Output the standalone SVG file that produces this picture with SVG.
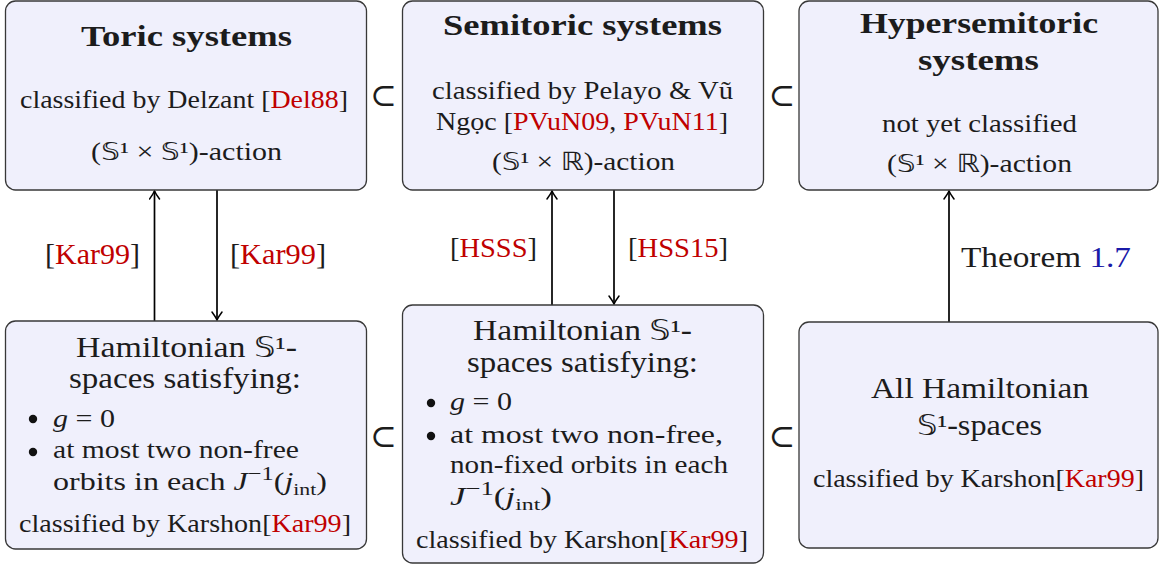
<svg xmlns="http://www.w3.org/2000/svg" width="1159" height="564" viewBox="0 0 1159 564">
<defs>
<style>
.box{fill:#f0f0fc;stroke:#383838;stroke-width:1.3}
text{font-family:"Liberation Serif","Times New Roman",serif;fill:#1c1c1c}
.t{font-weight:bold;font-size:30px}
.b{font-size:25px}
.h{font-size:29px}
.l{font-size:29.5px}
.l2{font-size:28px}
.red{fill:#c00000}
.blue{fill:#1a1aa8}
.ds{font-family:"DejaVu Sans","DejaVu Serif","Noto Sans",sans-serif}
.it{font-style:italic}
.sub{font-size:17px}
.sub2{font-size:19px}
.conn{stroke:#000;stroke-width:1.7;fill:none}
.sup{font-family:"DejaVu Serif","DejaVu Sans",serif;font-size:32px}
</style>
<marker id="ah" viewBox="-10 -6 12 12" refX="0" refY="0" markerWidth="12" markerHeight="12" markerUnits="userSpaceOnUse" orient="auto">
<path d="M -8 -5 Q -3 -1.3 0 0 Q -3 1.3 -8 5" fill="none" stroke="#000" stroke-width="1.5" stroke-linecap="round"/>
</marker>
</defs>
<rect width="1159" height="564" fill="#fff"/>

<g id="connectors">
<line class="conn" x1="154.5" y1="321" x2="154.5" y2="191" marker-end="url(#ah)"/>
<line class="conn" x1="217" y1="190" x2="217" y2="320" marker-end="url(#ah)"/>
<line class="conn" x1="552" y1="305" x2="552" y2="191" marker-end="url(#ah)"/>
<line class="conn" x1="614" y1="190" x2="614" y2="304" marker-end="url(#ah)"/>
<line class="conn" x1="949" y1="322" x2="949" y2="191" marker-end="url(#ah)"/>
<text class="l" x="45" y="264" textLength="95" lengthAdjust="spacingAndGlyphs">[<tspan class="red">Kar99</tspan>]</text>
<text class="l" x="230" y="264" textLength="96" lengthAdjust="spacingAndGlyphs">[<tspan class="red">Kar99</tspan>]</text>
<text class="l2" x="450" y="257" textLength="87" lengthAdjust="spacingAndGlyphs">[<tspan class="red">HSSS</tspan>]</text>
<text class="l2" x="628" y="257" textLength="100" lengthAdjust="spacingAndGlyphs">[<tspan class="red">HSS15</tspan>]</text>
<text class="l" x="961" y="267" textLength="170" lengthAdjust="spacingAndGlyphs">Theorem <tspan class="blue">1.7</tspan></text>
</g>

<g id="subset-symbols">
<text class="sup" x="383.5" y="106" text-anchor="middle">⊂</text>
<text class="sup" x="782" y="106" text-anchor="middle">⊂</text>
<text class="sup" x="383.5" y="447" text-anchor="middle">⊂</text>
<text class="sup" x="782" y="447" text-anchor="middle">⊂</text>
</g>

<g id="toric">
<rect class="box" x="5.5" y="1" width="361" height="189" rx="10"/>
<text class="t" x="81" y="46" textLength="211" lengthAdjust="spacingAndGlyphs">Toric systems</text>
<text class="b" x="20" y="108" textLength="328" lengthAdjust="spacingAndGlyphs">classified by Delzant [<tspan class="red">Del88</tspan>]</text>
<text class="b" x="91" y="160" textLength="191" lengthAdjust="spacingAndGlyphs">(<tspan class="ds">𝕊</tspan>¹ × <tspan class="ds">𝕊</tspan>¹)-action</text>
</g>

<g id="semitoric">
<rect class="box" x="402.5" y="1" width="361" height="189" rx="10"/>
<text class="t" x="443" y="35" textLength="279" lengthAdjust="spacingAndGlyphs">Semitoric systems</text>
<text class="b" x="432" y="99" textLength="301" lengthAdjust="spacingAndGlyphs">classified by Pelayo &amp; Vũ</text>
<text class="b" x="436" y="130" textLength="292" lengthAdjust="spacingAndGlyphs">Ngọc [<tspan class="red">PVuN09</tspan>, <tspan class="red">PVuN11</tspan>]</text>
<text class="b" x="492" y="170" textLength="183" lengthAdjust="spacingAndGlyphs">(<tspan class="ds">𝕊</tspan>¹ × <tspan class="ds">ℝ</tspan>)-action</text>
</g>

<g id="hypersemitoric">
<rect class="box" x="799" y="1" width="359" height="189" rx="10"/>
<text class="t" x="860" y="33" textLength="238" lengthAdjust="spacingAndGlyphs">Hypersemitoric</text>
<text class="t" x="918" y="70" textLength="121" lengthAdjust="spacingAndGlyphs">systems</text>
<text class="b" x="882" y="132" textLength="195" lengthAdjust="spacingAndGlyphs">not yet classified</text>
<text class="b" x="887" y="172" textLength="185" lengthAdjust="spacingAndGlyphs">(<tspan class="ds">𝕊</tspan>¹ × <tspan class="ds">ℝ</tspan>)-action</text>
</g>

<g id="hamiltonian-toric">
<rect class="box" x="5.5" y="321" width="361" height="228" rx="10"/>
<text class="h" x="76" y="357" textLength="221" lengthAdjust="spacingAndGlyphs">Hamiltonian <tspan class="ds">𝕊</tspan>¹-</text>
<text class="h" x="69" y="388" textLength="232" lengthAdjust="spacingAndGlyphs">spaces satisfying:</text>
<circle cx="33" cy="419" r="4.2" fill="#111"/>
<text class="b" x="53" y="427" textLength="62" lengthAdjust="spacingAndGlyphs"><tspan class="it">g</tspan> = 0</text>
<circle cx="33" cy="452" r="4.2" fill="#111"/>
<text class="b" x="53" y="458" textLength="246" lengthAdjust="spacingAndGlyphs">at most two non-free</text>
<text class="b" x="53" y="490" textLength="274" lengthAdjust="spacingAndGlyphs">orbits in each <tspan class="it">J</tspan><tspan class="sub2" dy="-10">−1</tspan><tspan dy="10">(</tspan><tspan class="it">j</tspan><tspan class="sub" dy="5">int</tspan><tspan dy="-5">)</tspan></text>
<text class="b" x="19" y="532" textLength="332" lengthAdjust="spacingAndGlyphs">classified by Karshon[<tspan class="red">Kar99</tspan>]</text>
</g>

<g id="hamiltonian-semitoric">
<rect class="box" x="402.5" y="305" width="361" height="258" rx="10"/>
<text class="h" x="473" y="340" textLength="219" lengthAdjust="spacingAndGlyphs">Hamiltonian <tspan class="ds">𝕊</tspan>¹-</text>
<text class="h" x="467" y="372" textLength="231" lengthAdjust="spacingAndGlyphs">spaces satisfying:</text>
<circle cx="431" cy="403" r="4.2" fill="#111"/>
<text class="b" x="450" y="410" textLength="62" lengthAdjust="spacingAndGlyphs"><tspan class="it">g</tspan> = 0</text>
<circle cx="431" cy="436" r="4.2" fill="#111"/>
<text class="b" x="450" y="443" textLength="273" lengthAdjust="spacingAndGlyphs">at most two non-free,</text>
<text class="b" x="450" y="473" textLength="278" lengthAdjust="spacingAndGlyphs">non-fixed orbits in each</text>
<text class="b" x="450" y="505" textLength="102" lengthAdjust="spacingAndGlyphs"><tspan class="it">J</tspan><tspan class="sub2" dy="-10">−1</tspan><tspan dy="10">(</tspan><tspan class="it">j</tspan><tspan class="sub" dy="5">int</tspan><tspan dy="-5">)</tspan></text>
<text class="b" x="416" y="548" textLength="332" lengthAdjust="spacingAndGlyphs">classified by Karshon[<tspan class="red">Kar99</tspan>]</text>
</g>

<g id="all-hamiltonian">
<rect class="box" x="799" y="322" width="359" height="226" rx="10"/>
<text class="h" x="871" y="398" textLength="218" lengthAdjust="spacingAndGlyphs">All Hamiltonian</text>
<text class="h" x="917" y="435" textLength="125" lengthAdjust="spacingAndGlyphs"><tspan class="ds">𝕊</tspan>¹-spaces</text>
<text class="b" x="813" y="487" textLength="331" lengthAdjust="spacingAndGlyphs">classified by Karshon[<tspan class="red">Kar99</tspan>]</text>
</g>
</svg>
